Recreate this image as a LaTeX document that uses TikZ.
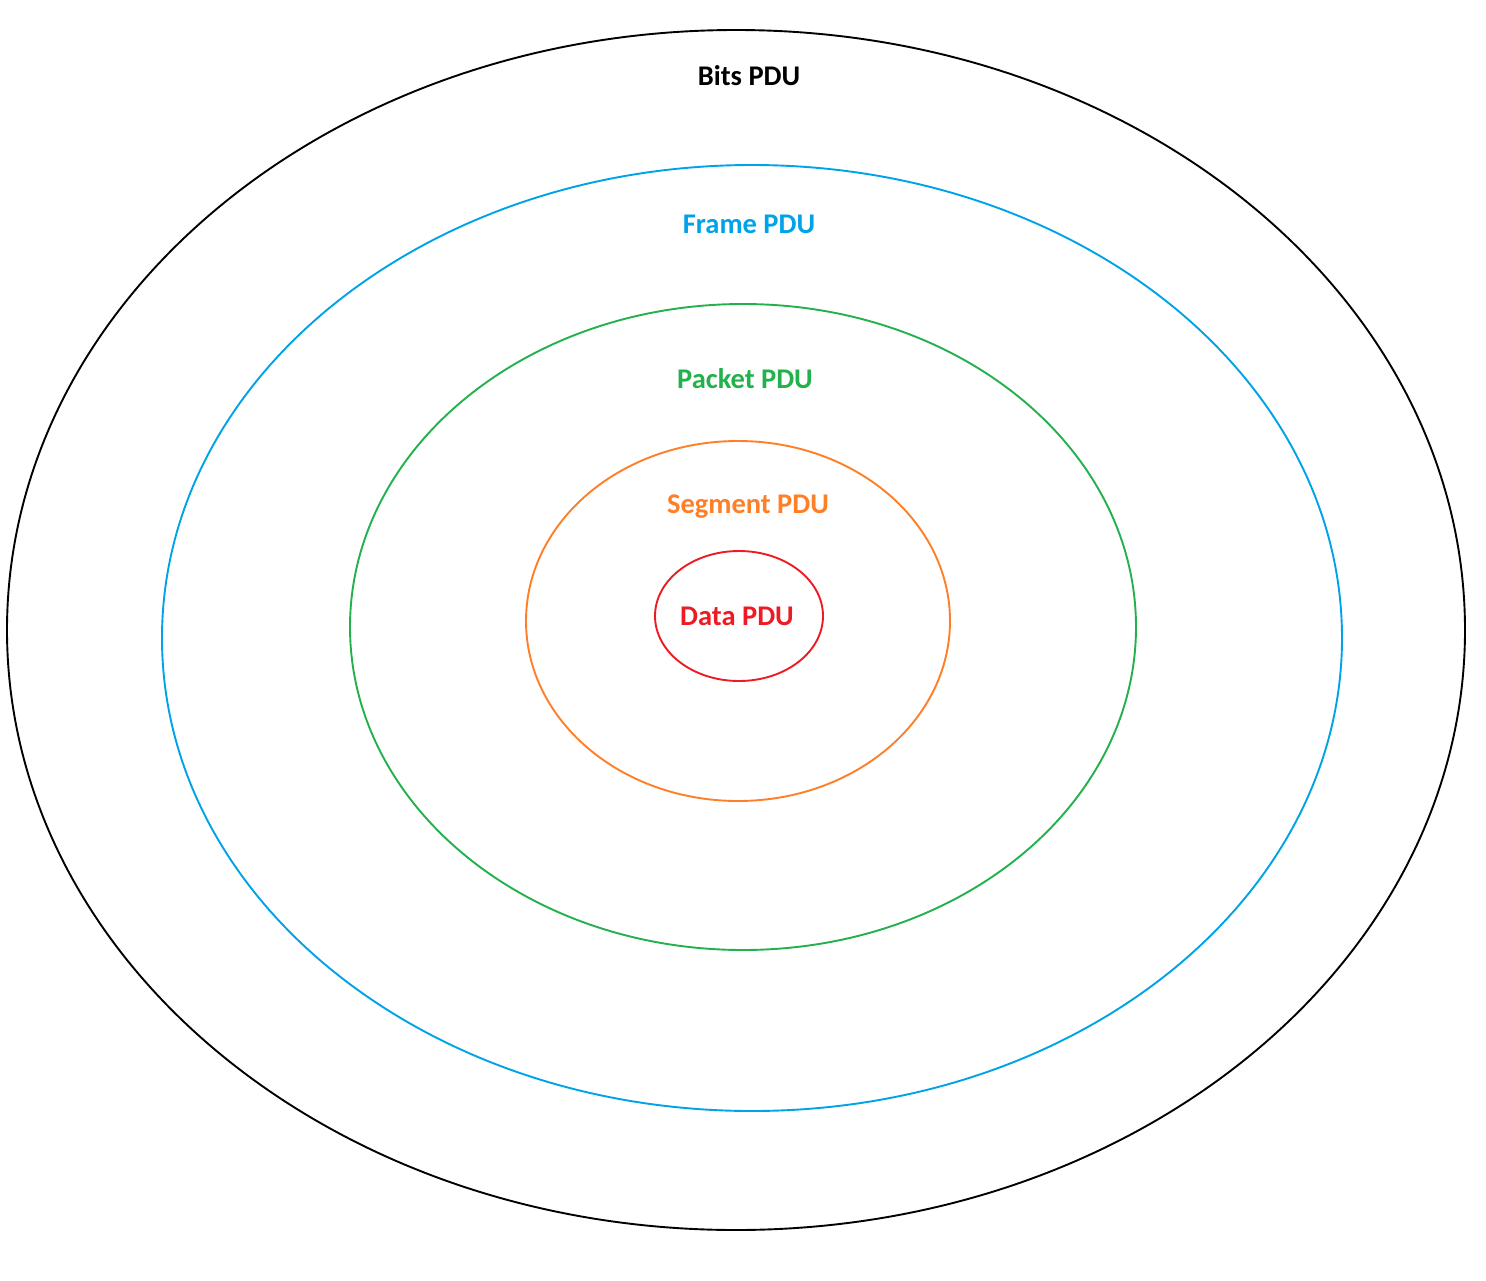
\documentclass[tikz,border=0pt]{standalone}
\usepackage{fontspec}
\setmainfont{Carlito}
\definecolor{bitsblack}{RGB}{0,0,0}
\definecolor{frameblue}{RGB}{0,162,232}
\definecolor{packetgreen}{RGB}{34,177,76}
\definecolor{segorange}{RGB}{255,127,39}
\definecolor{datared}{RGB}{237,28,36}
\tikzset{
  pdu ring/.style={line width=1.9pt},
  pdu label/.style={font=\fontsize{28.5}{31}\selectfont\bfseries, inner sep=0pt}
}

\begin{document}
\begin{tikzpicture}[x=1pt, y=-1pt]
		% Canvas:
		\useasboundingbox[fill=white] (0, 0) rectangle (1486, 1280);
		% Rings:
		\draw[pdu ring, bitsblack] (736, 630) ellipse [x radius=729, y radius=600];
		\draw[pdu ring, frameblue] (752, 638) ellipse [x radius=590, y radius=473];
		\draw[pdu ring, packetgreen] (743, 627) ellipse [x radius=393, y radius=323];
		\draw[pdu ring, segorange] (738, 621) ellipse [x radius=212, y radius=180];
		\draw[pdu ring, datared] (739, 616) ellipse [x radius=84, y radius=65];
		% Labels:
		\node[pdu label, text=bitsblack] (bits) at (749, 76) {Bits PDU};
		\node[pdu label, text=frameblue] (frame) at (749, 224) {Frame PDU};
		\node[pdu label, text=packetgreen] (packet) at (745, 379) {Packet PDU};
		\node[pdu label, text=segorange] (segment) at (748, 507) {Segment PDU};
		\node[pdu label, text=datared] (data) at (737, 616) {Data PDU};
	\end{tikzpicture}
\end{document}
